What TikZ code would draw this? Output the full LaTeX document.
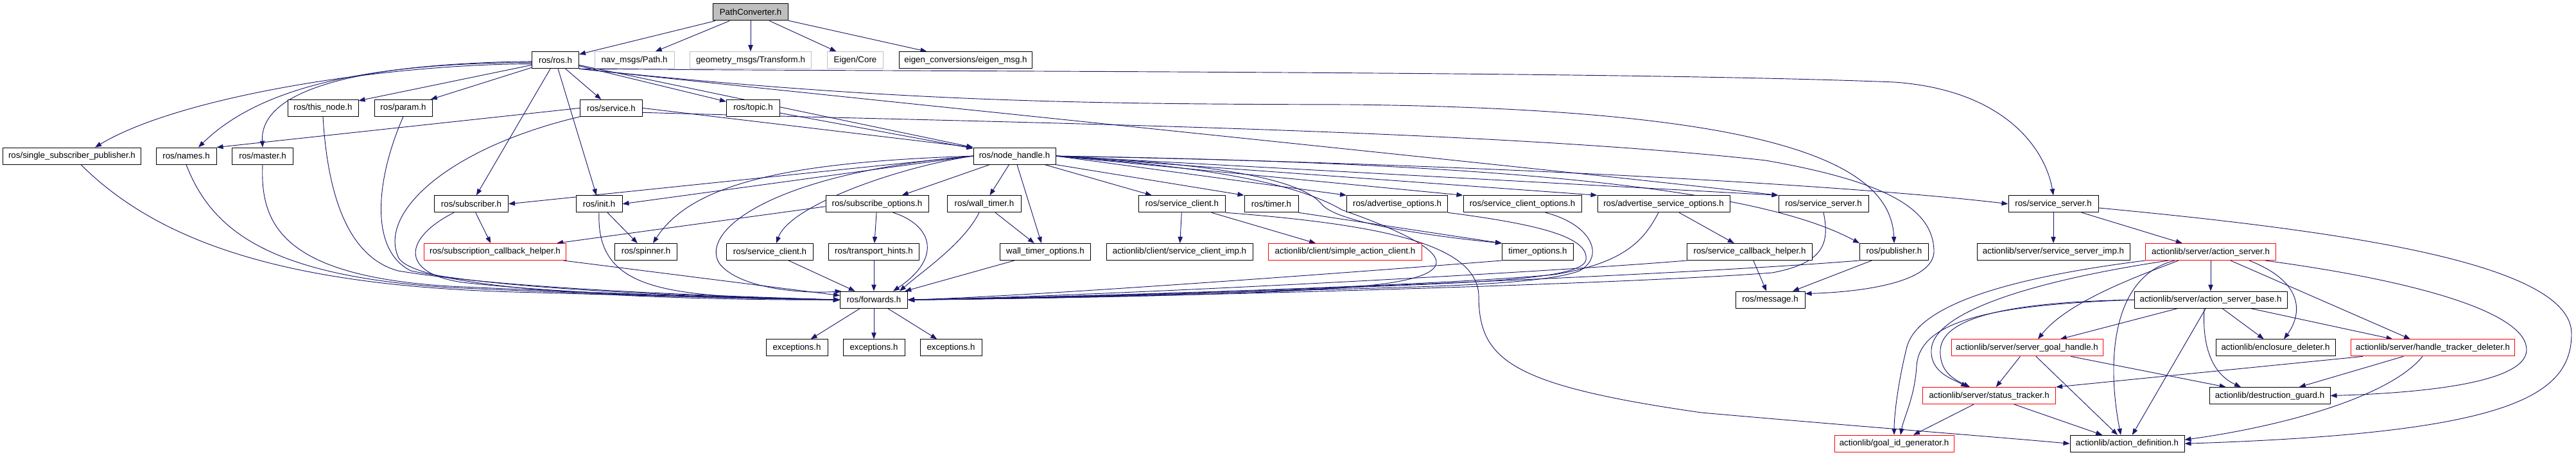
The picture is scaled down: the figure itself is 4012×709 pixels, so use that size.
\documentclass[tikz,border=0pt]{standalone}
\usepackage{fontspec}
\setmainfont{Liberation Sans}
\usetikzlibrary{arrows.meta}
\definecolor{eblue}{HTML}{191970}
\definecolor{gfill}{HTML}{BFBFBF}
\definecolor{gline}{HTML}{BFBFBF}
\definecolor{rline}{HTML}{FF0000}
\pgfdeclarelayer{bg}
\pgfsetlayers{bg,main}
\tikzset{
  nd/.style={draw=black, line width=0.75pt, rectangle, inner sep=0pt, minimum height=19.5pt, fill=white, text=black, font=\fontsize{10}{12}\selectfont},
  gy/.style={nd, draw=gline},
  rd/.style={nd, draw=rline},
  bw/.style={minimum width=#1*0.75pt},
  ln/.style={draw=eblue, line width=0.7pt, -{Triangle[length=7.5pt,width=5.5pt]}},
}
\begin{document}
\begin{tikzpicture}[x=0.75pt, y=-0.75pt]
\useasboundingbox (0,0) rectangle (4012,709);
% rank 0
\node[nd,bw=117,fill=gfill] (pc) at (1169,19) {PathConverter.h};
% rank 1
\node[nd,bw=73] (ros) at (865,93.7) {ros/ros.h};
\node[gy,bw=124] (nav) at (988,93.7) {nav\_msgs/Path.h};
\node[gy,bw=189] (geo) at (1169,93.7) {geometry\_msgs/Transform.h};
\node[gy,bw=87] (eigen) at (1332,93.7) {Eigen/Core};
\node[nd,bw=207] (eigc) at (1504,93.7) {eigen\_conversions/eigen\_msg.h};
% rank 2
\node[nd,bw=110] (thisnode) at (503,168.4) {ros/this\_node.h};
\node[nd,bw=90] (param) at (628,168.4) {ros/param.h};
\node[nd,bw=97] (service) at (952,168.4) {ros/service.h};
\node[nd,bw=83] (topic) at (1173,168.4) {ros/topic.h};
% rank 3
\node[nd,bw=215] (ssp) at (112,243.1) {ros/single\_subscriber\_publisher.h};
\node[nd,bw=94] (names) at (290,243.1) {ros/names.h};
\node[nd,bw=95] (master) at (409,243.1) {ros/master.h};
\node[nd,bw=128] (nh) at (1580,243.1) {ros/node\_handle.h};
% rank 4
\node[nd,bw=115] (sub) at (734,317.8) {ros/subscriber.h};
\node[nd,bw=72] (init) at (933,317.8) {ros/init.h};
\node[nd,bw=160] (subopt) at (1366,317.8) {ros/subscribe\_options.h};
\node[nd,bw=115] (wt) at (1533,317.8) {ros/wall\_timer.h};
\node[nd,bw=135] (sc) at (1841,317.8) {ros/service\_client.h};
\node[nd,bw=84] (timer) at (1980,317.8) {ros/timer.h};
\node[nd,bw=157] (advopt) at (2176,317.8) {ros/advertise\_options.h};
\node[nd,bw=184] (scopt) at (2371,317.8) {ros/service\_client\_options.h};
\node[nd,bw=206] (asopt) at (2591,317.8) {ros/advertise\_service\_options.h};
\node[nd,bw=140] (ss1) at (2840,317.8) {ros/service\_server.h};
\node[nd,bw=140] (ss2) at (3198,317.8) {ros/service\_server.h};
% rank 5
\node[rd,bw=221] (sch) at (771,392.5) {ros/subscription\_callback\_helper.h};
\node[nd,bw=97] (spinner) at (1006,392.5) {ros/spinner.h};
\node[nd,bw=135] (sc2) at (1199,392.5) {ros/service\_client.h};
\node[nd,bw=141] (th) at (1361,392.5) {ros/transport\_hints.h};
\node[nd,bw=141] (wto) at (1628,392.5) {wall\_timer\_options.h};
\node[nd,bw=228] (sci) at (1837,392.5) {actionlib/client/service\_client\_imp.h};
\node[rd,bw=239] (sac) at (2095,392.5) {actionlib/client/simple\_action\_client.h};
\node[nd,bw=111] (tmo) at (2395,392.5) {timer\_options.h};
\node[nd,bw=195] (scbh) at (2725,392.5) {ros/service\_callback\_helper.h};
\node[nd,bw=107] (pub) at (2950,392.5) {ros/publisher.h};
\node[nd,bw=238] (ssi) at (3198,392.5) {actionlib/server/service\_server\_imp.h};
\node[rd,bw=203] (asv) at (3443,392.5) {actionlib/server/action\_server.h};
% rank 6
\node[nd,bw=105] (fwd) at (1361,467.2) {ros/forwards.h};
\node[nd,bw=108] (msg) at (2757,467.2) {ros/message.h};
\node[nd,bw=238] (asb) at (3443,467.2) {actionlib/server/action\_server\_base.h};
% rank 7
\node[nd,bw=96] (ex1) at (1241,541.9) {exceptions.h};
\node[nd,bw=96] (ex2) at (1361,541.9) {exceptions.h};
\node[nd,bw=96] (ex3) at (1481,541.9) {exceptions.h};
\node[rd,bw=236] (sgh) at (3157,541.9) {actionlib/server/server\_goal\_handle.h};
\node[nd,bw=186] (ed) at (3544,541.9) {actionlib/enclosure\_deleter.h};
\node[rd,bw=255] (htd) at (3789,541.9) {actionlib/server/handle\_tracker\_deleter.h};
% rank 8
\node[rd,bw=207] (st) at (3098,616.6) {actionlib/server/status\_tracker.h};
\node[nd,bw=188] (dg) at (3535,616.6) {actionlib/destruction\_guard.h};
% rank 9
\node[rd,bw=186] (gid) at (2950,691.3) {actionlib/goal\_id\_generator.h};
\node[nd,bw=178] (ad) at (3313,691.3) {actionlib/action\_definition.h};

\begin{pgfonlayer}{bg}
% PathConverter
\draw[ln] (pc) -- (ros);
\draw[ln] (pc) -- (nav);
\draw[ln] (pc) -- (geo);
\draw[ln] (pc) -- (eigen);
\draw[ln] (pc) -- (eigc);
% ros.h
\draw[ln] (ros.189) .. controls (600,100) and (280,150) .. ([shift={(36,0)}]ssp.north);
\draw[ln] (ros.186) .. controls (560,98) and (400,140) .. ([shift={(19,0)}]names.north);
\draw[ln] (ros.183) .. controls (520,100) and (405,150) .. (master.north);
\draw[ln] (ros) -- (thisnode);
\draw[ln] (ros) -- (param);
\draw[ln] (ros) -- (service);
\draw[ln] (ros) -- (sub);
\draw[ln] (ros) -- (init);
\draw[ln] (ros) -- (topic);
\draw[ln] (ros) -- (nh);
\draw[ln] (ros.south east) .. controls (1400,112) and (2500,110) .. (2950,128) .. controls (3120,140) and (3185,230) .. (ss2.north);
\draw[ln] (ros.south east) .. controls (1400,160) and (1700,162) .. (2100,163) .. controls (2750,170) and (2945,250) .. (pub.north);
\draw[ln] (ros.south east) .. controls (1200,140) and (2400,262) .. (ss1.north west);
% service.h
\draw[ln] (service.west) -- (names.north east);
\draw[ln] (service.east) -- (nh.north west);
\draw[ln] (service.south west) .. controls (700,230) and (590,330) .. (620,400) .. controls (640,450) and (1000,468) .. (fwd.west);
\draw[ln] (service.-8) .. controls (1500,190) and (2300,200) .. (2750,250) .. controls (2950,285) and (3010,330) .. (3012,390) .. controls (3014,440) and (2900,455) .. (msg.10);
% topic.h
\draw[ln] (topic) -- (nh);
% left column into forwards
\draw[ln] ([shift={(14,0)}]ssp.south) .. controls (250,380) and (450,445) .. (800,455) .. controls (1050,462) and (1200,466) .. (fwd.west);
\draw[ln] (names.south) .. controls (330,360) and (420,430) .. (700,448) .. controls (1000,462) and (1200,465) .. (fwd.west);
\draw[ln] (master.south) .. controls (405,350) and (440,430) .. (700,446) .. controls (1000,460) and (1200,465) .. (fwd.west);
\draw[ln] (thisnode.south) .. controls (510,300) and (540,400) .. (620,422) .. controls (800,452) and (1150,462) .. (fwd.west);
\draw[ln] (param.south) .. controls (585,280) and (575,390) .. (640,422) .. controls (800,455) and (1150,463) .. (fwd.west);
% subscriber / init / sch
\draw[ln] (sub) -- (sch);
\draw[ln] ([shift={(-27,0)}]sub.south) .. controls (630,370) and (620,425) .. (720,440) .. controls (900,460) and (1150,465) .. (fwd.west);
\draw[ln] (init) -- (spinner);
\draw[ln] (init.south) .. controls (928,460) and (1050,462) .. (fwd.west);
\draw[ln] (sch) -- (fwd);
% node_handle.h
\draw[ln] (nh.west) -- (sub.east);
\draw[ln] (nh.west) -- (init.east);
\draw[ln] (nh.west) .. controls (1250,252) and (1080,280) .. ([shift={(11,0)}]spinner.north);
\draw[ln] (nh.west) .. controls (1200,270) and (1090,360) .. (1120,410) .. controls (1150,450) and (1250,458) .. (fwd.165);
\draw[ln] (nh.west) .. controls (1400,260) and (1230,320) .. ([shift={(10,0)}]sc2.north);
\draw[ln] (nh) -- (subopt);
\draw[ln] (nh) -- (wt);
\draw[ln] ([shift={(4,0)}]nh.south) -- ([shift={(-6,0)}]wto.north);
\draw[ln] (nh) -- (sc);
\draw[ln] (nh.south east) -- (timer.north west);
\draw[ln] (nh.east) -- (advopt.north west);
\draw[ln] (nh.east) -- (scopt.north west);
\draw[ln] (nh.east) -- (asopt.north west);
\draw[ln] (nh.east) -- (ss1.north west);
\draw[ln] (nh.east) .. controls (2300,255) and (2900,290) .. (ss2.west);
\draw[ln] (nh.east) .. controls (2400,255) and (2750,300) .. (pub.north west);
\draw[ln] (nh.east) .. controls (1900,255) and (2030,280) .. (2060,320) .. controls (2090,350) and (2250,370) .. (tmo.north west);
\draw[ln] (nh.east) .. controls (1850,258) and (2010,280) .. (2090,327) .. controls (2240,380) and (2290,420) .. (2170,440) .. controls (2050,460) and (1600,465) .. (fwd.east);
% timer, service_client
\draw[ln] (timer.south east) -- (tmo.north west);
\draw[ln] (sc) -- (sci);
\draw[ln] (sc) -- (sac);
\draw[ln] (sc.south east) .. controls (2150,350) and (2300,380) .. (2303,460) .. controls (2303,560) and (2350,600) .. (2650,643) .. controls (2900,665) and (3100,680) .. (ad.west);
% wall timer
\draw[ln] (wt) -- (wto);
\draw[ln] ([shift={(-8,0)}]wt.south) .. controls (1500,380) and (1440,420) .. ([shift={(40,0)}]fwd.north);
\draw[ln] (wto) -- (fwd);
% subscribe options
\draw[ln] ([shift={(0,4)}]subopt.west) -- ([shift={(-15,0)}]sch.north east);
\draw[ln] (subopt) -- (th);
\draw[ln] ([shift={(25,0)}]subopt.south) .. controls (1450,350) and (1470,400) .. ([shift={(30,0)}]fwd.north);
\draw[ln] (sc2) -- (fwd);
\draw[ln] (th) -- (fwd);
% forwards
\draw[ln] (fwd) -- (ex1);
\draw[ln] (fwd) -- (ex2);
\draw[ln] (fwd) -- (ex3);
% right-hand side into forwards
\draw[ln] (advopt.south east) .. controls (2400,350) and (2475,370) .. (2470,405) .. controls (2465,435) and (2300,440) .. (2100,448) .. controls (1800,462) and (1550,466) .. (fwd.east);
\draw[ln] ([shift={(36,0)}]scopt.south) .. controls (2480,350) and (2500,400) .. (2460,422) .. controls (2400,445) and (2200,447) .. (2000,453) .. controls (1700,462) and (1550,466) .. (fwd.east);
\draw[ln] ([shift={(-8,0)}]asopt.south) .. controls (2560,375) and (2530,410) .. (2420,428) .. controls (2200,448) and (1600,464) .. (fwd.east);
\draw[ln] (asopt) -- (scbh);
\draw[ln] (ss1.south) .. controls (2850,380) and (2840,410) .. (2760,425) .. controls (2500,445) and (1700,465) .. (fwd.east);
\draw[ln] (tmo.south west) .. controls (2100,425) and (1600,462) .. (fwd.east);
\draw[ln] (scbh.south west) .. controls (2400,425) and (1700,462) .. (fwd.east);
\draw[ln] (pub.south west) .. controls (2600,430) and (1800,462) .. (fwd.east);
\draw[ln] (scbh) -- (msg);
\draw[ln] (pub) -- (msg);
% service_server (right)
\draw[ln] (ss2) -- (ssi);
\draw[ln] (ss2) -- (asv);
\draw[ln] (ss2.-5) .. controls (3650,360) and (4005,410) .. (4005,520) .. controls (4005,620) and (3900,675) .. (ad.east);
% action_server
\draw[ln] (asv) -- (asb);
\draw[ln] ([shift={(-50,0)}]asv.south) .. controls (3330,430) and (3220,470) .. ([shift={(17,0)}]sgh.north);
\draw[ln] ([shift={(-56,0)}]asv.south) .. controls (3290,430) and (3280,560) .. ([shift={(-10,0)}]ad.north);
\draw[ln] ([shift={(60,0)}]asv.south) .. controls (3590,440) and (3585,490) .. ([shift={(13,0)}]ed.north);
\draw[ln] ([shift={(31,0)}]asv.south) -- ([shift={(-35,0)}]htd.north);
\draw[ln] ([shift={(85,0)}]asv.south) .. controls (3780,440) and (3935,490) .. (3935,545) .. controls (3935,600) and (3750,613) .. (dg.east);
\draw[ln] ([shift={(-66,0)}]asv.south) .. controls (3150,440) and (3010,490) .. (3008,545) .. controls (3006,580) and (3040,590) .. ([shift={(-34,0)}]st.north);
\draw[ln] (asv.south west) .. controls (3150,430) and (2990,470) .. (2970,540) .. controls (2955,600) and (2950,650) .. (gid.north);
% action_server_base
\draw[ln] (asb) -- (sgh);
\draw[ln] (asb) -- (ad);
\draw[ln] ([shift={(-10,0)}]asb.south) .. controls (3430,530) and (3440,580) .. ([shift={(-45,0)}]dg.north);
\draw[ln] (asb) -- (ed);
\draw[ln] (asb) -- (htd);
\draw[ln] (asb.west) .. controls (3150,470) and (3025,490) .. (3022,545) .. controls (3020,580) and (3045,592) .. ([shift={(-30,0)}]st.north);
\draw[ln] (asb.west) .. controls (3100,475) and (2990,500) .. (2985,570) .. controls (2982,620) and (2965,650) .. ([shift={(10,0)}]gid.north);
% server_goal_handle
\draw[ln] (sgh) -- (st);
\draw[ln] ([shift={(14,0)}]sgh.south) -- ([shift={(-15,0)}]ad.north);
\draw[ln] (sgh) -- (dg);
% handle_tracker_deleter
\draw[ln] ([shift={(-109,0)}]htd.south) -- (st.north east);
\draw[ln] (htd) -- (dg);
\draw[ln] ([shift={(-16,0)}]htd.south) .. controls (3720,620) and (3550,665) .. ([shift={(0,-6)}]ad.east);
% status_tracker
\draw[ln] ([shift={(-24,0)}]st.south) -- ([shift={(30,0)}]gid.north);
\draw[ln] (st) -- (ad);
\end{pgfonlayer}
\end{tikzpicture}
\end{document}
